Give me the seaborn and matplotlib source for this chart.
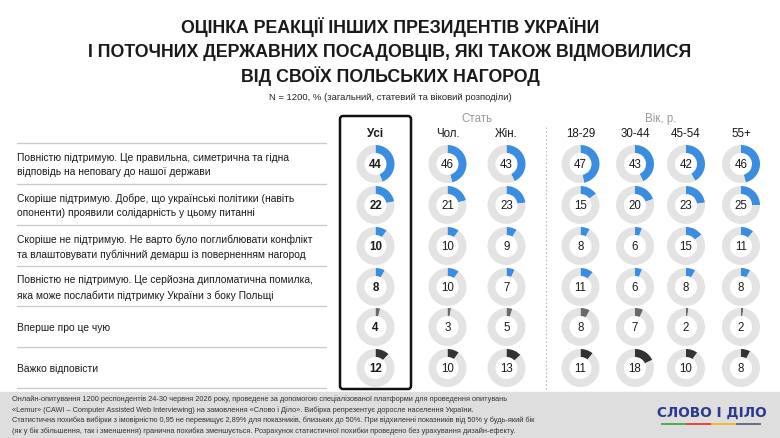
import matplotlib
matplotlib.use("Agg")
import matplotlib.pyplot as plt
import seaborn as sns
from matplotlib.patches import FancyBboxPatch, Rectangle

# дані
answers = [
    "Повністю підтримую. Це правильна, симетрична та гідна\nвідповідь на неповагу до нашої держави",
    "Скоріше підтримую. Добре, що українські політики (навіть\nопоненти) проявили солідарність у цьому питанні",
    "Скоріше не підтримую. Не варто було поглиблювати конфлікт\nта влаштовувати публічний демарш із поверненням нагород",
    "Повністю не підтримую. Це серйозна дипломатична помилка,\nяка може послабити підтримку України з боку Польщі",
    "Вперше про це чую",
    "Важко відповісти",
]
groups = ["Усі", "Чол.", "Жін.", "18-29", "30-44", "45-54", "55+"]
usi = [44, 22, 10, 8, 4, 12]
chol = [46, 21, 10, 10, 3, 10]
zhin = [43, 23, 9, 7, 5, 13]
age_18_29 = [47, 15, 8, 11, 8, 11]
age_30_44 = [43, 20, 6, 6, 7, 18]
age_45_54 = [42, 23, 15, 8, 2, 10]
age_55 = [46, 25, 11, 8, 2, 8]
values = [usi, chol, zhin, age_18_29, age_30_44, age_45_54, age_55]

title_lines = ["ОЦІНКА РЕАКЦІЇ ІНШИХ ПРЕЗИДЕНТІВ УКРАЇНИ",
               "І ПОТОЧНИХ ДЕРЖАВНИХ ПОСАДОВЦІВ, ЯКІ ТАКОЖ ВІДМОВИЛИСЯ",
               "ВІД СВОЇХ ПОЛЬСЬКИХ НАГОРОД"]
subtitle = "N = 1200, % (загальний, статевий та віковий розподіли)"
footer = ("Онлайн-опитування 1200 респондентів 24-30 червня 2026 року, проведене за допомогою спеціалізованої платформи для проведення опитувань\n"
          "«Lemur» (CAWI – Computer Assisted Web Interviewing) на замовлення «Слово і Діло». Вибірка репрезентує доросле населення України.\n"
          "Статистична похибка вибірки з імовірністю 0,95 не перевищує 2,89% для показників, близьких до 50%. При відхиленні показників від 50% у будь-який бік\n"
          "(як у бік збільшення, так і зменшення) гранична похибка зменшується. Розрахунок статистичної похибки проведено без урахування дизайн-ефекту.")

sns.set_theme(style="white")
plt.rcParams['font.family'] = ['Liberation Sans', 'DejaVu Sans']

blue, dark, black, ring = "#3a8de0", "#6a6a6a", "#333333", "#e3e3e3"
row_colors = [blue, blue, blue, blue, dark, black]

W, H = 780, 439
fig = plt.figure(figsize=(W / 100, H / 100), dpi=100)
bg = fig.add_axes([0, 0, 1, 1])
bg.set_xlim(0, W)
bg.set_ylim(H, 0)
bg.axis('off')

for y, line in zip([33, 57, 82], title_lines):
    bg.text(W / 2, y, line, ha='center', va='baseline', fontsize=12.8, fontweight='bold',
            color="#1a1a1a")
bg.text(W / 2, 98, subtitle, ha='center', va='center', fontsize=6.8, color="#222222")

row_y = [165, 206, 247, 288, 328, 369]
sep_y = [144, 185, 226, 267, 307, 348, 389]
for y in sep_y:
    bg.plot([17, 326], [y, y], color="#cccccc", lw=1)
for y, lab in zip(row_y, answers):
    bg.text(17, y, lab, ha='left', va='center', fontsize=7.4, color="#1a1a1a", linespacing=1.55)

col_x = [375.5, 447.5, 506.5, 580.5, 635, 686, 741]
for x, g in zip(col_x, groups):
    bg.text(x, 134, g, ha='center', va='center', fontsize=8.3, color="#1a1a1a",
            fontweight='bold' if g == "Усі" else 'normal')
bg.text((col_x[1] + col_x[2]) / 2, 119, "Стать", ha='center', va='center', fontsize=8.3, color="#9a9a9a")
bg.text((col_x[4] + col_x[5]) / 2, 119, "Вік, р.", ha='center', va='center', fontsize=8.3, color="#9a9a9a")
bg.plot([545.5, 545.5], [128, 390], color="#bbbbbb", lw=0.8, ls=(0, (1.5, 2)))
bg.add_patch(FancyBboxPatch((340, 117), 71, 273, boxstyle="round,pad=0,rounding_size=3",
                            ec="#111111", fc="none", lw=1.8))

# донати
r = 19
for ci, (x, col) in enumerate(zip(col_x, values)):
    for ri, (y, v) in enumerate(zip(row_y, col)):
        ax = fig.add_axes([(x - r) / W, 1 - (y + r) / H, 2 * r / W, 2 * r / H])
        ax.pie([v, 100 - v], colors=[row_colors[ri], ring], startangle=90, counterclock=False,
               wedgeprops=dict(width=0.42, linewidth=0))
        ax.set_xlim(-1, 1)
        ax.set_ylim(-1, 1)
        ax.set_aspect('equal')
        ax.text(0, -0.02, str(v), ha='center', va='center', fontsize=8.3, color="#1a1a1a",
                fontweight='bold' if ci == 0 else 'normal')

# підвал
bg.add_patch(Rectangle((0, 393), W, H - 393, color="#dedede", zorder=0))
bg.text(12, 415, footer, ha='left', va='center', fontsize=5.35, color="#333333", linespacing=1.5)
bg.text(712, 413, "СЛОВО І ДІЛО", ha='center', va='center', fontsize=9.8, fontweight='bold',
        color="#2b3a8f", family=['DejaVu Sans'])
for x0, c in zip([661, 686, 711, 736], ["#4caf50", "#e8463a", "#f5b82e", "#6b6f80"]):
    bg.add_patch(Rectangle((x0, 424), 25, 2.2, color=c, lw=0))

fig.savefig("out.png", dpi=100)
